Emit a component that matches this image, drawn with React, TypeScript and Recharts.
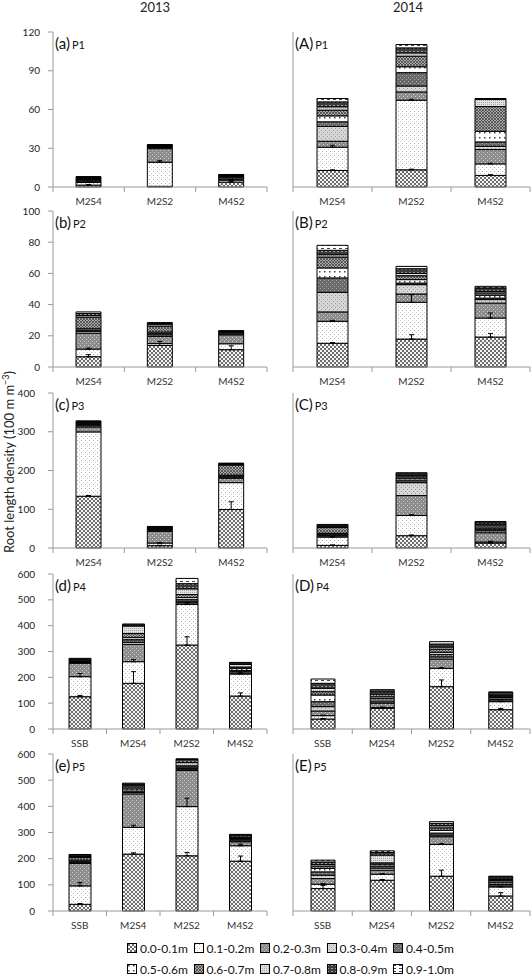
import React from "react";
import { BarChart, Bar, XAxis, YAxis, ErrorBar } from "recharts";

const LAYERS = [
  "0.0-0.1m", "0.1-0.2m", "0.2-0.3m", "0.3-0.4m", "0.4-0.5m",
  "0.5-0.6m", "0.6-0.7m", "0.7-0.8m", "0.8-0.9m", "0.9-1.0m",
];
const CATS_3 = ["M2S4", "M2S2", "M4S2"];
const CATS_4 = ["SSB", "M2S4", "M2S2", "M4S2"];

const TICKS_P1 = [0, 30, 60, 90, 120];
const TICKS_P2 = [0, 20, 40, 60, 80, 100];
const TICKS_P3 = [0, 100, 200, 300, 400];
const TICKS_P45 = [0, 100, 200, 300, 400, 500, 600];

// one row per category, one value per soil layer (0.0-0.1m ... 0.9-1.0m)
const P1_2013 = [
  [1.5, 2, 1, 0.8, 0.5, 0.7, 0.6, 0.4, 0.3, 0.2],
  [0.5, 18.7, 10.5, 0.8, 0.5, 0.5, 0.5, 0.3, 0.3, 0.2],
  [3.8, 1.5, 0.8, 1, 0.5, 0.6, 0.5, 0.3, 0.4, 0.3],
];
const P1_2014 = [
  [12.8, 18, 4.6, 11.5, 3.6, 4.6, 4.4, 2.6, 3.8, 2.6],
  [13.3, 53.9, 6.4, 4.6, 10.3, 4.6, 8.2, 2.5, 3.9, 2.6],
  [9, 8.9, 11.1, 2.5, 3.4, 8.2, 19.2, 5.6, 0.3, 0.3],
];
const P2_2013 = [
  [6.6, 4.9, 10.2, 1.2, 0.8, 0.8, 7.5, 1, 1.3, 1],
  [13.8, 1.2, 4.6, 1, 0.8, 1, 3.8, 1.2, 0.6, 0.5],
  [11.1, 3.8, 5.7, 0.5, 0.8, 0.4, 0.3, 0.3, 0.2, 0.1],
];
const P2_2014 = [
  [15.2, 14.1, 6, 12.6, 9.2, 6.4, 7, 1.5, 2.8, 3.2],
  [17.9, 23.6, 5.3, 6, 1, 2.2, 2.5, 1.5, 3, 1.5],
  [19.2, 12.2, 9.6, 2.2, 1, 1.8, 1.5, 1, 2.2, 1],
];
const P3_2013 = [
  [133.6, 166, 12.8, 3, 3, 2, 2, 1.5, 3, 1],
  [6, 6.8, 30, 3, 2, 2, 1.5, 1, 2.5, 0.8],
  [99.3, 69.4, 11.1, 3, 3, 2, 26.2, 2, 2, 1],
];
const P3_2014 = [
  [6.8, 21.5, 3, 2, 2.7, 2, 15, 3, 3, 1.8],
  [31.7, 52.2, 51.4, 33.4, 5, 5, 5, 3, 5, 2.6],
  [12.8, 2.6, 24, 5, 3, 4, 6, 4, 4, 3.1],
];
const P4_2013 = [
  [125, 77.6, 51.4, 3, 3, 2, 2, 3, 4, 2.5],
  [176.8, 83.8, 67.1, 8, 10, 8, 16, 29, 5, 2.8],
  [325, 157.6, 6, 4, 8, 8, 12, 22, 20, 20.4],
  [127.7, 85.2, 4, 5, 5, 8, 5, 10, 5, 2.9],
];
const P4_2014 = [
  [38.7, 12.9, 18.1, 16.8, 19.3, 25.8, 12.9, 12.9, 19.4, 16.7],
  [80, 3, 17, 5, 13.7, 6, 10, 5, 8, 4.6],
  [163.9, 70.9, 36.2, 8, 10, 8, 12, 8, 12, 9],
  [74.8, 31, 3, 5, 8, 3, 4, 3, 10, 1.4],
];
const P5_2013 = [
  [25.6, 70.4, 85.6, 3, 5, 5, 10, 4, 5, 2.4],
  [217.4, 102.3, 127.9, 5, 6, 8, 8, 6, 5, 2.9],
  [211, 188, 138, 5, 3, 5, 5, 12, 12, 2.8],
  [190.5, 58.9, 15.3, 3, 5, 4, 3, 3, 8, 2.1],
];
const P5_2014 = [
  [85.7, 16.6, 21.7, 12.8, 12.8, 12.8, 9, 6, 10, 7],
  [117.6, 23, 15.4, 8, 8, 7, 5, 29.6, 10, 6.4],
  [133, 121.5, 29.4, 6, 8, 10, 10, 8, 9, 6.5],
  [57.5, 34.5, 4, 5, 10, 5, 4, 3, 8, 2],
];

// upward standard errors of the 0.0-0.1m and 0.1-0.2m layers (0 = none)
const ERR_P1_2013 = [[0.4, 0.3], [0, 1.2], [0.6, 0.4]];
const ERR_P1_2014 = [[0.5, 1.5], [0.5, 0.7], [0.5, 0.5]];
const ERR_P2_2013 = [[1.3, 0.6], [2.6, 0], [2.5, 0]];
const ERR_P2_2014 = [[0.5, 0.6], [2.8, 4.9], [2.2, 3.2]];
const ERR_P3_2013 = [[2, 0], [1, 1], [20, 0]];
const ERR_P3_2014 = [[1, 1], [2, 2], [1, 2]];
const ERR_P4_2013 = [[5, 12], [45, 8], [32, 6], [12, 5]];
const ERR_P4_2014 = [[2, 2], [3, 2], [26, 3], [5, 2]];
const ERR_P5_2013 = [[3, 12.7], [5, 8], [13, 32], [19.5, 6]];
const ERR_P5_2014 = [[12, 2], [3, 2], [23, 3], [12.5, 2]];

const FONT = "Lato, 'Liberation Sans', sans-serif";

function Patterns() {
  return (
    <svg width={0} height={0} style={{ position: "absolute" }}>
      <defs>
        <pattern id="pat0" width={4} height={4} patternUnits="userSpaceOnUse">
          <rect width={4} height={4} fill="#f4f4f4" />
          <path d="M0,0L4,4M4,0L0,4" stroke="#4a4a4a" strokeWidth={0.8} />
        </pattern>
        <pattern id="pat1" width={4} height={4} patternUnits="userSpaceOnUse">
          <rect width={4} height={4} fill="#fff" />
          <rect x={1} y={1} width={1} height={1} fill="#aaa" />
          <rect x={3} y={3} width={1} height={1} fill="#ccc" />
        </pattern>
        <pattern id="pat2" width={4} height={4} patternUnits="userSpaceOnUse">
          <rect width={4} height={4} fill="#8c8c8c" />
          <rect x={0} y={0} width={1} height={1} fill="#d0d0d0" />
          <rect x={2} y={2} width={1} height={1} fill="#d0d0d0" />
        </pattern>
        <pattern id="pat3" width={4} height={4} patternUnits="userSpaceOnUse">
          <rect width={4} height={4} fill="#d6d6d6" />
          <rect x={0} y={0} width={1} height={1} fill="#999" />
          <rect x={2} y={2} width={1} height={1} fill="#999" />
        </pattern>
        <pattern id="pat4" width={4} height={4} patternUnits="userSpaceOnUse">
          <rect width={4} height={4} fill="#6a6a6a" />
          <rect x={1} y={1} width={1} height={1} fill="#aaa" />
          <rect x={3} y={3} width={1} height={1} fill="#aaa" />
        </pattern>
        <pattern id="pat5" width={5} height={5} patternUnits="userSpaceOnUse">
          <rect width={5} height={5} fill="#fff" />
          <rect x={1} y={1} width={1.5} height={1.5} fill="#444" />
        </pattern>
        <pattern id="pat6" width={3} height={3} patternUnits="userSpaceOnUse">
          <rect width={3} height={3} fill="#a8a8a8" />
          <path d="M0,0L3,3M3,0L0,3" stroke="#3a3a3a" strokeWidth={0.7} />
        </pattern>
        <pattern id="pat7" width={2} height={2} patternUnits="userSpaceOnUse">
          <rect width={2} height={2} fill="#e0e0e0" />
          <rect x={0} y={0} width={1} height={1} fill="#a8a8a8" />
        </pattern>
        <pattern id="pat8" width={4} height={3} patternUnits="userSpaceOnUse">
          <rect width={4} height={3} fill="#3c3c3c" />
          <rect x={0} y={1} width={2} height={1} fill="#9a9a9a" />
        </pattern>
        <pattern id="pat9" width={6} height={3} patternUnits="userSpaceOnUse">
          <rect width={6} height={3} fill="#fff" />
          <rect x={0} y={1} width={3} height={1} fill="#444" />
        </pattern>
      </defs>
    </svg>
  );
}

function CatTick(props: any) {
  const { x, y, payload, index, visibleTicksCount, band } = props;
  const last = index === visibleTicksCount - 1;
  return (
    <g>
      <line x1={x - band / 2} x2={x - band / 2} y1={y} y2={y + 5} stroke="#999" />
      {last && <line x1={x + band / 2} x2={x + band / 2} y1={y} y2={y + 5} stroke="#999" />}
      <text x={x} y={y + 14} dy="0.35em" textAnchor="middle" fontSize={10} fill="#333" fontFamily={FONT}>
        {payload.value}
      </text>
    </g>
  );
}

interface PanelProps {
  left: boolean;
  topY: number;
  zeroY: number;
  cats: string[];
  values: number[][];
  errs: number[][];
  ticks: number[];
  tag: string;
  phase: string;
  labelGap: number;
}

function Panel({ left, topY, zeroY, cats, values, errs, ticks, tag, phase, labelGap }: PanelProps) {
  const axisW = left ? 53 : 20;
  const chartX = left ? 0 : 273;
  const chartW = left ? 270 : 260;
  const plotW = chartW - axisW - 3;
  const mt = 6;
  const xh = 22;
  const h = mt + (zeroY - topY) + xh;
  const band = plotW / cats.length;
  const barSize = cats.length === 3 ? (left ? 25 : 31) : left ? 22 : 24;

  const data = cats.map((c, i) => {
    const row: any = { cat: c };
    LAYERS.forEach((_, j) => {
      row[`L${j}`] = values[i][j];
    });
    row.e0 = errs[i][0] ? [0, errs[i][0]] : undefined;
    row.e1 = errs[i][1] ? [0, errs[i][1]] : undefined;
    return row;
  });

  return (
    <div style={{ position: "absolute", left: chartX, top: topY - mt }}>
      <BarChart width={chartW} height={h} data={data} margin={{ top: mt, right: 3, bottom: 0, left: 0 }}>
        <XAxis
          dataKey="cat"
          height={xh}
          interval={0}
          tickLine={false}
          tickSize={0}
          tickMargin={0}
          axisLine={{ stroke: "#999" }}
          tick={(p: any) => <CatTick {...p} band={band} />}
        />
        <YAxis
          width={axisW}
          domain={[0, ticks[ticks.length - 1]]}
          ticks={ticks}
          interval={0}
          tickSize={5}
          tickMargin={labelGap}
          tick={left ? { fontSize: 10, fill: "#222", fontFamily: FONT } : false}
          axisLine={{ stroke: "#999" }}
          tickLine={{ stroke: "#999" }}
        />
        {LAYERS.map((name, j) => (
          <Bar
            key={name}
            dataKey={`L${j}`}
            name={name}
            stackId="s"
            fill={`url(#pat${j})`}
            stroke="#000"
            strokeWidth={1}
            barSize={barSize}
            isAnimationActive={false}
          >
            {j < 2 && <ErrorBar dataKey={`e${j}`} direction="y" width={2.5} stroke="#000" strokeWidth={1} />}
          </Bar>
        ))}
      </BarChart>
      <div
        style={{
          position: "absolute",
          left: axisW + 2,
          top: mt + 1,
          fontFamily: FONT,
          color: "#111",
          whiteSpace: "nowrap",
        }}
      >
        <span style={{ fontSize: 15 }}>{tag}</span>
        <span style={{ fontSize: 11, marginLeft: 2 }}>{phase}</span>
      </div>
    </div>
  );
}

export default function App() {
  return (
    <div
      style={{
        position: "absolute",
        left: 0,
        top: 0,
        width: 532,
        height: 978,
        background: "#fff",
        fontFamily: FONT,
        overflow: "hidden",
      }}
    >
      <Patterns />
      <div style={{ position: "absolute", left: 125, top: 0, width: 60, textAlign: "center", fontSize: 13, lineHeight: "14px", color: "#222" }}>
        2013
      </div>
      <div style={{ position: "absolute", left: 378, top: 0, width: 60, textAlign: "center", fontSize: 13, lineHeight: "14px", color: "#222" }}>
        2014
      </div>
      <div
        style={{
          position: "absolute",
          left: 9 - 150,
          top: 462 - 9,
          width: 300,
          height: 18,
          lineHeight: "18px",
          textAlign: "center",
          fontSize: 13,
          color: "#222",
          transform: "rotate(-90deg)",
          whiteSpace: "nowrap",
        }}
      >
        Root length density (100 m m<span style={{ fontSize: 9, verticalAlign: "super", lineHeight: 0 }}>−3</span>)
      </div>

      <Panel left topY={32} zeroY={187} cats={CATS_3} values={P1_2013} errs={ERR_P1_2013} ticks={TICKS_P1} tag="(a)" phase="P1" labelGap={8} />
      <Panel left={false} topY={32} zeroY={187} cats={CATS_3} values={P1_2014} errs={ERR_P1_2014} ticks={TICKS_P1} tag="(A)" phase="P1" labelGap={8} />
      <Panel left topY={211} zeroY={367} cats={CATS_3} values={P2_2013} errs={ERR_P2_2013} ticks={TICKS_P2} tag="(b)" phase="P2" labelGap={8} />
      <Panel left={false} topY={211} zeroY={367} cats={CATS_3} values={P2_2014} errs={ERR_P2_2014} ticks={TICKS_P2} tag="(B)" phase="P2" labelGap={8} />
      <Panel left topY={393} zeroY={548} cats={CATS_3} values={P3_2013} errs={ERR_P3_2013} ticks={TICKS_P3} tag="(c)" phase="P3" labelGap={13} />
      <Panel left={false} topY={393} zeroY={548} cats={CATS_3} values={P3_2014} errs={ERR_P3_2014} ticks={TICKS_P3} tag="(C)" phase="P3" labelGap={13} />
      <Panel left topY={574} zeroY={729} cats={CATS_4} values={P4_2013} errs={ERR_P4_2013} ticks={TICKS_P45} tag="(d)" phase="P4" labelGap={13} />
      <Panel left={false} topY={574} zeroY={729} cats={CATS_4} values={P4_2014} errs={ERR_P4_2014} ticks={TICKS_P45} tag="(D)" phase="P4" labelGap={13} />
      <Panel left topY={754} zeroY={911} cats={CATS_4} values={P5_2013} errs={ERR_P5_2013} ticks={TICKS_P45} tag="(e)" phase="P5" labelGap={13} />
      <Panel left={false} topY={754} zeroY={911} cats={CATS_4} values={P5_2014} errs={ERR_P5_2014} ticks={TICKS_P45} tag="(E)" phase="P5" labelGap={13} />

      {LAYERS.map((name, j) => {
        const col = j % 5;
        const rowY = j < 5 ? 948 : 969;
        return (
          <div
            key={name}
            style={{
              position: "absolute",
              left: 127 + col * 66.5,
              top: rowY - 8,
              height: 16,
              display: "flex",
              alignItems: "center",
              fontSize: 12,
              color: "#111",
              whiteSpace: "nowrap",
            }}
          >
            <svg width={10} height={10} style={{ marginRight: 3 }}>
              <rect x={0.5} y={0.5} width={9} height={9} fill={`url(#pat${j})`} stroke="#000" strokeWidth={1} />
            </svg>
            {name}
          </div>
        );
      })}
    </div>
  );
}
